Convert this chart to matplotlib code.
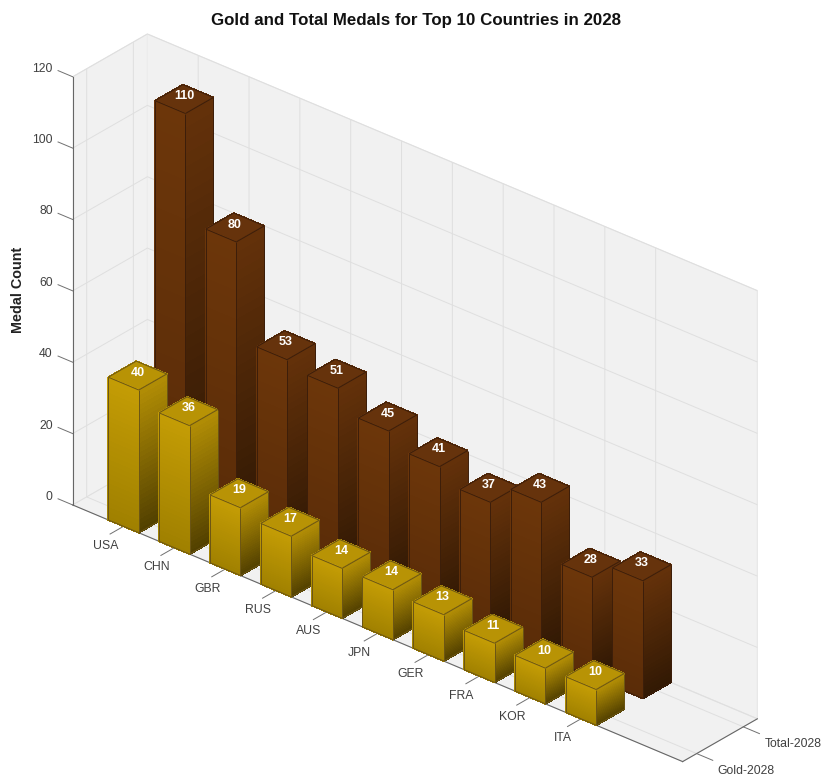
import matplotlib

matplotlib.use("Agg")

import matplotlib.pyplot as plt
import numpy as np
from mpl_toolkits.mplot3d import proj3d
from mpl_toolkits.mplot3d.art3d import Line3DCollection, Poly3DCollection

plt.rcParams["font.family"] = ["Liberation Sans", "DejaVu Sans"]

countries = ["USA", "CHN", "GBR", "RUS", "AUS", "JPN", "GER", "FRA", "KOR", "ITA"]
series_names = ["Gold-2028", "Total-2028"]
gold = [40, 36, 19, 17, 14, 14, 13, 11, 10, 10]
total = [110, 80, 53, 51, 45, 41, 37, 43, 28, 33]
z_ticks = [0, 20, 40, 60, 80, 100, 120]

BAR = 0.6  # bar width in both x and y
N_STRIP = 30  # strips per face, for the vertical gradient
TEXT = "#404040"
XMIN, XMAX = 0, 12
YMIN, YMAX = 0.7, 2.3

# (top of left face, bottom of left face, top of right face, bottom of right face, lid, edge)
GOLD_STYLE = ("#C39C05", "#A08000", "#B08C05", "#524000", "#B89305", "#6B5515")
TOTAL_STYLE = ("#6C360A", "#5A2C08", "#63310A", "#321904", "#66330C", "#3C1E0A")


def mix(c1, c2, n):
    a = np.array(matplotlib.colors.to_rgb(c1))
    b = np.array(matplotlib.colors.to_rgb(c2))
    return [tuple(b + (a - b) * t) for t in np.linspace(0, 1, n)]


def draw_bar(ax, x, y, h, style, zo):
    x0, x1 = x - BAR / 2, x + BAR / 2
    y0, y1 = y - BAR / 2, y + BAR / 2
    zs = np.linspace(0, h, N_STRIP + 1)
    left = [[(x0, y0, a), (x1, y0, a), (x1, y0, b), (x0, y0, b)] for a, b in zip(zs[:-1], zs[1:])]
    right = [[(x1, y0, a), (x1, y1, a), (x1, y1, b), (x1, y0, b)] for a, b in zip(zs[:-1], zs[1:])]
    lid = [(x0, y0, h), (x1, y0, h), (x1, y1, h), (x0, y1, h)]
    colors = mix(style[0], style[1], N_STRIP) + mix(style[2], style[3], N_STRIP) + [style[4]]
    # no antialiasing here, otherwise the strip seams show as bands
    faces = Poly3DCollection(left + right + [lid], facecolors=colors, edgecolors=colors,
                             linewidths=0.5, antialiaseds=False)
    faces.set_zorder(zo)
    ax.add_collection3d(faces, autolim=False)
    outline = Line3DCollection(
        [[(x0, y0, 0), (x1, y0, 0)], [(x1, y0, 0), (x1, y1, 0)],
         [(x0, y0, 0), (x0, y0, h)], [(x1, y0, 0), (x1, y0, h)], [(x1, y1, 0), (x1, y1, h)],
         [lid[0], lid[1]], [lid[1], lid[2]], [lid[2], lid[3]], [lid[3], lid[0]]],
        colors=style[5], linewidths=0.7)
    outline.set_zorder(zo + 0.5)
    ax.add_collection3d(outline, autolim=False)


def label_at(ax, x, y, z, s, dx, dy, **kw):
    # text anchored on a 3d point, nudged in pixels
    px, py, _ = proj3d.proj_transform(x, y, z, ax.get_proj())
    ax.annotate(s, (px, py), xycoords="data", xytext=(dx, dy), textcoords="offset pixels",
                annotation_clip=False, va="center", **kw)


fig = plt.figure(figsize=(8.21, 7.76), dpi=100)
S = 800
ax = fig.add_axes([4.2 / 821, -32.6 / 776, S / 821, S / 776], projection="3d", computed_zorder=False)
ax.set_proj_type("ortho")
ax.view_init(elev=29.4, azim=-49.4)
ax.set_box_aspect((805, 115, 492.5), zoom=921 / S)
ax.patch.set_alpha(0)

ax.set_xlim(XMIN, XMAX)
ax.set_ylim(YMIN, YMAX)
ax.set_zlim(0, 120)

xs = np.arange(1, len(countries) + 1)
ax.set_xticks(xs, [""] * len(xs))
ax.set_yticks([1, 2], ["", ""])
ax.set_zticks(z_ticks, [""] * len(z_ticks))
ax.zaxis.set_ticks_position("lower")
ax.zaxis._get_tickdir = lambda position: 0  # z ticks run along x in the reference

for axis, out in ((ax.xaxis, -2.25), (ax.yaxis, -0.33), (ax.zaxis, 0.3)):
    axis.set_pane_color("#F1F1F1")
    axis.pane.set_edgecolor("#E4E4E4")
    axis.pane.set_linewidth(0.7)
    axis.line.set_color("#666666")
    axis.line.set_linewidth(0.8)
    axis._axinfo["grid"]["color"] = "#DFDFDF"
    axis._axinfo["grid"]["linewidth"] = 0.7
    axis._axinfo["tick"]["inward_factor"] = 0.0
    axis._axinfo["tick"]["outward_factor"] = out
    axis._axinfo["tick"]["linewidth"] = {True: 0.7, False: 0.5}
ax.tick_params(axis="both", color="#707070")
ax.tick_params(axis="z", color="#707070")

for x, name in zip(xs, countries):
    label_at(ax, x, YMIN, 0, name, -18, -19.5, ha="center", fontsize=8.8, color=TEXT)
for y, name in zip([1, 2], series_names):
    label_at(ax, XMAX, y, 0, name, 21, -17, ha="left", fontsize=8.8, color=TEXT)
for z in z_ticks:
    label_at(ax, XMIN, YMIN, z, str(z), -20, 8, ha="right", fontsize=8.8, color=TEXT)

# painter's order: far row first, then left to right along x
zo = 2
for row, values, style in ((2, total, TOTAL_STYLE), (1, gold, GOLD_STYLE)):
    for x, h in zip(xs, values):
        draw_bar(ax, x, row, h, style, zo)
        label_at(ax, x, row, h, str(h), 0, 3, ha="center", color="#FFFFFF", fontsize=9,
                 fontweight="bold", zorder=zo + 0.7)
        zo += 1

fig.text(416 / 821, 1 - 20 / 776, "Gold and Total Medals for Top 10 Countries in 2028",
         ha="center", va="center", fontsize=12.2, fontweight="bold", color="#111111")
fig.text(18 / 821, 1 - 290 / 776, "Medal Count", rotation=90, ha="center", va="center",
         fontsize=10.4, fontweight="bold", color="#222222")

fig.savefig("out.png", dpi=100)
